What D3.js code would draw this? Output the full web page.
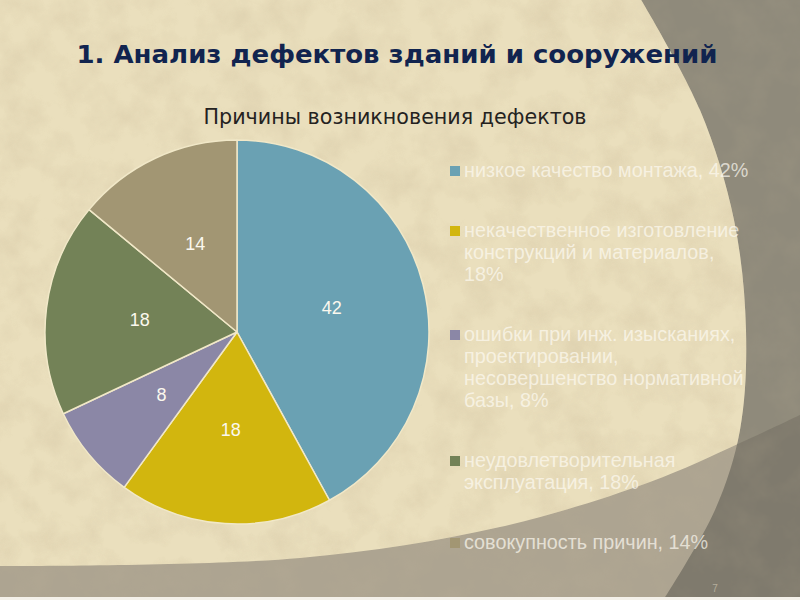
<!DOCTYPE html>
<html><head><meta charset="utf-8">
<script src="https://cdn.jsdelivr.net/npm/d3@7"></script>
<style>body{margin:0;background:#fff}svg{display:block}</style>
</head><body><svg id="c" width="800" height="600"></svg>
<script>
// ---- data ----
const categories = [
  "низкое качество монтажа, 42%",
  "некачественное изготовление конструкций и материалов, 18%",
  "ошибки при инж. изысканиях, проектировании, несовершенство нормативной базы, 8%",
  "неудовлетворительная эксплуатация, 18%",
  "совокупность причин, 14%"
];
const legendLines = [
  ["низкое качество монтажа, 42%"],
  ["некачественное изготовление", "конструкций и материалов,", "18%"],
  ["ошибки при инж. изысканиях,", "проектировании,", "несовершенство нормативной", "базы, 8%"],
  ["неудовлетворительная", "эксплуатация, 18%"],
  ["совокупность причин, 14%"]
];
const values = [42, 18, 8, 18, 14];
const colors = ["#6aa1b3", "#d2b60e", "#8b87a6", "#738257", "#a29673"];
const titleText = "1. Анализ дефектов зданий и сооружений";
const subtitleText = "Причины возникновения дефектов";
const pageNumber = "7";

// ---- drawing ----
const svg = d3.select("#c");
const W = 800, H = 600;
const defs = svg.append("defs");

const f = defs.append("filter").attr("id", "tex").attr("x", 0).attr("y", 0).attr("width", "100%").attr("height", "100%");
f.append("feTurbulence").attr("type", "fractalNoise").attr("baseFrequency", "0.03").attr("numOctaves", 4).attr("seed", 7);
f.append("feColorMatrix").attr("type", "matrix")
  .attr("values", "0 0 0 0 0.62  0 0 0 0 0.52  0 0 0 0 0.34  1.6 0 0 0 -0.62");

// background shapes
const line = d3.line().curve(d3.curveCatmullRom.alpha(0.5));
const rightCurve = [[640, -2], [700, 110], [734, 220], [746, 330], [740, 430], [715, 510], [662, 602]];
const bottomCurve = [[-2, 566], [300, 558], [500, 527], [650, 482], [740, 443], [802, 414]];

svg.append("rect").attr("width", W).attr("height", H).attr("fill", "#8f8a7b");
svg.append("path").attr("d", line(bottomCurve) + "L802,602L-2,602Z").attr("fill", "#7f7a6d");
defs.append("clipPath").attr("id", "leftClip").append("path")
  .attr("d", line(rightCurve) + "L-2,602L-2,-2Z");
defs.append("clipPath").attr("id", "topClip").append("path")
  .attr("d", line(bottomCurve) + "L802,-2L-2,-2Z");
svg.append("rect").attr("width", W).attr("height", H).attr("fill", "#ada491").attr("clip-path", "url(#leftClip)");
const beige = svg.append("g").attr("clip-path", "url(#leftClip)")
  .append("g").attr("clip-path", "url(#topClip)");
beige.append("rect").attr("width", W).attr("height", H).attr("fill", "#eadfbd");
beige.append("rect").attr("width", W).attr("height", H).attr("filter", "url(#tex)").attr("opacity", 0.35);
svg.append("rect").attr("width", W).attr("height", H).attr("filter", "url(#tex)").attr("opacity", 0.12);
svg.append("rect").attr("x", 0).attr("y", 597).attr("width", W).attr("height", 3).attr("fill", "#f4f1ea");

// title
svg.append("text").attr("x", 397).attr("y", 63).attr("text-anchor", "middle")
  .attr("font-family", "'DejaVu Sans', sans-serif").attr("font-weight", "bold")
  .attr("font-size", 25).attr("fill", "#11244f").text(titleText)
  .attr("textLength", 641).attr("lengthAdjust", "spacingAndGlyphs");

svg.append("text").attr("x", 395).attr("y", 124).attr("text-anchor", "middle")
  .attr("font-family", "'DejaVu Sans', sans-serif")
  .attr("font-size", 21).attr("fill", "#24221f").text(subtitleText)
  .attr("textLength", 383).attr("lengthAdjust", "spacingAndGlyphs");

// pie
const cx = 237, cy = 332, R = 192;
const pie = d3.pie().sort(null).value(d => d)(values);
const arc = d3.arc().innerRadius(0).outerRadius(R);
const labelArc = d3.arc().innerRadius(R * 0.51).outerRadius(R * 0.51);
const g = svg.append("g").attr("transform", `translate(${cx},${cy})`);
g.selectAll("path.slice").data(pie).join("path").attr("class", "slice")
  .attr("d", arc).attr("fill", (d, i) => colors[i])
  .attr("stroke", "#f1e8c8").attr("stroke-width", 1.5).attr("stroke-linejoin", "round");
g.selectAll("text.lbl").data(pie).join("text").attr("class", "lbl")
  .attr("transform", d => `translate(${labelArc.centroid(d)})`)
  .attr("text-anchor", "middle").attr("dy", "0.35em")
  .attr("font-family", "'Liberation Sans', Arial, sans-serif").attr("font-size", 18)
  .attr("fill", "#fbf8ee").text(d => d.data);

// legend
const lg = svg.append("g");
let y = 177;
legendLines.forEach((lines, i) => {
  lg.append("rect").attr("x", 450).attr("y", y - 11).attr("width", 10).attr("height", 10)
    .attr("fill", colors[i]);
  lines.forEach((t, j) => {
    lg.append("text").attr("x", 464).attr("y", y + j * 22)
      .attr("font-family", "'Liberation Sans', Arial, sans-serif").attr("font-size", 19.8)
      .attr("fill", "#fdfaf2").attr("fill-opacity", 0.7).text(t);
  });
  y += (lines.length - 1) * 22 + 60;
});

svg.append("text").attr("x", 715).attr("y", 592).attr("text-anchor", "middle")
  .attr("font-family", "'Liberation Sans', Arial, sans-serif").attr("font-size", 10)
  .attr("fill", "#b4ad9c").text(pageNumber);
</script>
</body></html>
